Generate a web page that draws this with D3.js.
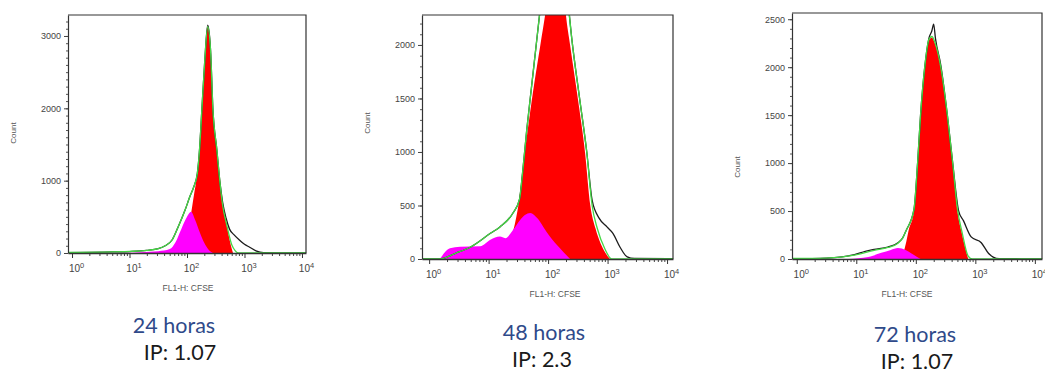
<!DOCTYPE html>
<html>
<head>
<meta charset="utf-8">
<script src="https://cdn.jsdelivr.net/npm/d3@7/dist/d3.min.js"></script>
<style>
  body { margin: 0; background: #fff; }
  svg { display: block; }
</style>
</head>
<body>
<div class="chart"></div>
<script>
// histogram points as [log10(FL1-H), count]
const black24 = [[-0.07,5],[0.3,8],[0.7,15],[1.0,20],[1.3,35],[1.5,60],[1.62,100],[1.74,180],[1.84,350],[1.97,600],[2.05,780],[2.12,920],[2.18,1100],[2.22,1450],[2.26,2000],[2.31,2670],[2.36,3150],[2.41,2800],[2.45,2000],[2.52,1420],[2.57,1000],[2.62,700],[2.68,480],[2.74,330],[2.82,250],[2.91,180],[3.0,120],[3.09,80],[3.2,30],[3.33,5],[3.6,3],[4.07,2]];
const green24 = [[-0.07,8],[0.5,12],[1.0,22],[1.3,35],[1.5,60],[1.62,100],[1.74,180],[1.84,350],[1.97,600],[2.05,780],[2.12,920],[2.18,1100],[2.22,1450],[2.26,2000],[2.31,2670],[2.36,3130],[2.41,2800],[2.45,2000],[2.52,1420],[2.57,1000],[2.62,660],[2.69,390],[2.78,110],[2.84,30],[2.9,0],[4.07,0]];
const red24 = [[1.85,0],[1.95,150],[2.05,450],[2.12,800],[2.17,1050],[2.22,1450],[2.26,2000],[2.31,2670],[2.36,3120],[2.41,2780],[2.45,2000],[2.52,1420],[2.57,1000],[2.62,660],[2.69,390],[2.75,150],[2.8,0]];
const magenta24 = [[0.9,0],[1.2,12],[1.5,25],[1.7,55],[1.8,150],[1.9,330],[2.0,500],[2.07,570],[2.14,460],[2.22,290],[2.3,140],[2.38,40],[2.45,0]];

const black48 = [[-0.12,0],[0.18,0],[0.45,55],[0.69,110],[1.03,240],[1.19,300],[1.41,430],[1.52,560],[1.57,800],[1.64,1200],[1.72,1600],[1.8,2000],[1.88,2400],[1.98,2900],[2.1,3200],[2.2,3100],[2.3,2600],[2.4,2050],[2.53,1500],[2.65,1000],[2.74,550],[2.86,380],[2.99,300],[3.09,240],[3.21,110],[3.33,20],[3.45,5],[4.1,3]];
const green48 = [[-0.12,0],[0.18,0],[0.45,55],[0.69,110],[1.03,240],[1.19,300],[1.41,430],[1.52,560],[1.57,800],[1.64,1200],[1.72,1600],[1.8,2000],[1.88,2400],[1.98,2900],[2.1,3200],[2.2,3100],[2.3,2600],[2.4,2050],[2.53,1500],[2.65,1000],[2.74,500],[2.83,280],[2.95,100],[3.07,0],[4.1,0]];
const red48 = [[1.2,0],[1.35,150],[1.45,350],[1.5,500],[1.61,1000],[1.73,1500],[1.87,2000],[1.95,2280],[2.05,2700],[2.15,2800],[2.25,2600],[2.3,2280],[2.37,2000],[2.5,1500],[2.62,1000],[2.71,500],[2.8,280],[2.92,100],[3.04,0]];
const magenta48 = [[0.18,0],[0.35,100],[0.52,115],[0.86,120],[1.03,180],[1.19,210],[1.28,195],[1.41,270],[1.53,365],[1.61,410],[1.7,430],[1.82,380],[1.92,300],[2.03,210],[2.2,100],[2.37,0]];

const black72 = [[-0.08,3],[0.5,10],[0.97,45],[1.15,80],[1.3,100],[1.53,125],[1.7,170],[1.78,220],[1.84,300],[1.97,520],[2.03,1000],[2.08,1500],[2.15,2000],[2.22,2300],[2.27,2380],[2.3,2450],[2.33,2300],[2.42,2020],[2.53,1500],[2.62,1000],[2.72,500],[2.8,400],[2.93,230],[3.1,170],[3.22,60],[3.3,20],[3.4,3],[4.12,2]];
const green72 = [[-0.08,5],[0.5,10],[0.97,40],[1.3,90],[1.53,120],[1.7,165],[1.78,220],[1.84,300],[1.97,520],[2.03,1000],[2.08,1500],[2.15,2000],[2.22,2290],[2.27,2320],[2.32,2260],[2.42,2000],[2.53,1500],[2.62,1000],[2.7,520],[2.78,270],[2.88,30],[2.95,0],[4.12,0]];
const red72 = [[1.75,0],[1.8,80],[1.84,180],[1.88,300],[1.97,500],[2.03,1000],[2.08,1500],[2.15,2000],[2.22,2280],[2.27,2310],[2.32,2250],[2.42,2000],[2.53,1500],[2.62,1000],[2.7,500],[2.78,250],[2.88,0]];
const magenta72 = [[0.87,0],[1.2,20],[1.42,65],[1.58,95],[1.7,115],[1.83,95],[1.95,50],[2.08,0]];

const hours = ["24 horas", "48 horas", "72 horas"];
const ipValues = ["IP: 1.07", "IP: 2.3", "IP: 1.07"];
const yTicks24 = [0, 1000, 2000, 3000];
const yTicks48 = [0, 500, 1000, 1500, 2000];
const yTicks72 = [0, 500, 1000, 1500, 2000, 2500];
const xDecades = [0, 1, 2, 3, 4];

const width = 1045;
const height = 374;

const svg = d3.select(".chart")
    .append("svg")
    .attr("width", width)
    .attr("height", height);

svg.append("rect")
    .attr("width", width)
    .attr("height", height)
    .attr("fill", "#fff");

function drawPanel(i, box, data, yTicks) {
    const x = d3.scaleLog()
        .domain([Math.pow(10, box.lo), Math.pow(10, box.hi)])
        .range([box.left, box.right]);

    const y = d3.scaleLinear()
        .domain([0, box.yMax])
        .range([box.bottom, box.top]);

    const g = svg.append("g");

    g.append("clipPath")
        .attr("id", "clip" + i)
        .append("rect")
        .attr("x", box.left)
        .attr("y", box.top)
        .attr("width", box.right - box.left)
        .attr("height", box.bottom - box.top);

    const plot = g.append("g").attr("clip-path", `url(#clip${i})`);

    const area = d3.area()
        .x(d => x(Math.pow(10, d[0])))
        .y0(y(0))
        .y1(d => y(d[1]))
        .curve(d3.curveMonotoneX);

    const line = d3.line()
        .x(d => x(Math.pow(10, d[0])))
        .y(d => y(d[1]))
        .curve(d3.curveMonotoneX);

    plot.append("path").datum(data.red).attr("d", area).attr("fill", "#ff0000");
    plot.append("path").datum(data.magenta).attr("d", area).attr("fill", "#ff00ff");
    plot.append("path").datum(data.black).attr("d", line)
        .attr("fill", "none").attr("stroke", "#1c1c1c").attr("stroke-width", 1.3);
    plot.append("path").datum(data.green).attr("d", line)
        .attr("fill", "none").attr("stroke", "#45d845").attr("stroke-width", 1.3);

    // frame top + right
    g.append("path")
        .attr("d", `M${box.left},${box.top}H${box.right}V${box.bottom}`)
        .attr("fill", "none")
        .attr("stroke", "#333")
        .attr("stroke-width", 1.2);

    // y axis: minor ticks then major ticks with labels
    const minorY = d3.range(0, box.yMax, 100);
    g.append("g")
        .attr("transform", `translate(${box.left},0)`)
        .call(d3.axisLeft(y).tickValues(minorY).tickSize(2).tickFormat(""))
        .call(a => a.select(".domain").remove())
        .selectAll("line").attr("stroke", "#555");

    g.append("g")
        .attr("transform", `translate(${box.left},0)`)
        .call(d3.axisLeft(y).tickValues(yTicks).tickFormat(d3.format("d")).tickSize(4).tickSizeOuter(0).tickPadding(3))
        .call(a => a.select(".domain").attr("stroke", "#333").attr("stroke-width", 1.2))
        .call(a => a.selectAll("line").attr("stroke", "#444"))
        .selectAll("text")
        .attr("fill", "#444")
        .style("font-family", "Liberation Sans, Arial, sans-serif")
        .style("font-size", "9px");

    // x axis: log decades with minor ticks
    const minorX = [];
    for (let e = 0; e < 4; e++) {
        for (let k = 2; k < 10; k++) minorX.push(k * Math.pow(10, e));
    }
    g.append("g")
        .attr("transform", `translate(0,${box.bottom})`)
        .call(d3.axisBottom(x).tickValues(minorX).tickSize(3).tickFormat(""))
        .call(a => a.select(".domain").remove())
        .selectAll("line").attr("stroke", "#444");

    g.append("g")
        .attr("transform", `translate(0,${box.bottom})`)
        .call(d3.axisBottom(x).tickValues(xDecades.map(e => Math.pow(10, e))).tickSize(5).tickSizeOuter(0).tickPadding(7))
        .call(a => a.select(".domain").attr("stroke", "#333").attr("stroke-width", 1.4))
        .call(a => a.selectAll("line").attr("stroke", "#333"))
        .selectAll("text")
        .attr("fill", "#444")
        .attr("dx", "4px")
        .style("font-family", "Liberation Sans, Arial, sans-serif")
        .style("font-size", "10px")
        .text("10")
        .append("tspan")
        .attr("dy", "-0.5em")
        .style("font-size", "7.5px")
        .text(d => Math.round(Math.log10(d)));

    g.append("text")
        .attr("x", box.titleX)
        .attr("y", box.bottom + 38)
        .attr("text-anchor", "middle")
        .attr("fill", "#555")
        .style("font-family", "Liberation Sans, Arial, sans-serif")
        .style("font-size", "8.5px")
        .text("FL1-H: CFSE");

    g.append("text")
        .attr("transform", `translate(${box.countX},${box.countY}) rotate(-90)`)
        .attr("text-anchor", "middle")
        .attr("fill", "#555")
        .style("font-family", "Liberation Sans, Arial, sans-serif")
        .style("font-size", "8px")
        .text("Count");

    g.append("text")
        .attr("x", box.capX)
        .attr("y", box.capY)
        .attr("text-anchor", "middle")
        .attr("fill", "#2f4a8a")
        .style("font-family", "Lato, sans-serif")
        .style("font-size", "21.5px")
        .text(hours[i]);

    g.append("text")
        .attr("x", box.ipX)
        .attr("y", box.capY + 27)
        .attr("text-anchor", "middle")
        .attr("fill", "#1a1a1a")
        .style("font-family", "Lato, sans-serif")
        .style("font-size", "21.5px")
        .text(ipValues[i]);
}

const boxes = [
    {left: 68, right: 306, top: 15, bottom: 253, lo: -0.07, hi: 4.07, yMax: 3290, titleX: 188, countX: 16, countY: 133, capX: 174, ipX: 180, capY: 333},
    {left: 422, right: 673, top: 15, bottom: 259, lo: -0.12, hi: 4.1, yMax: 2280, titleX: 555, countX: 370, countY: 123, capX: 544, ipX: 542, capY: 340},
    {left: 792, right: 1042, top: 13, bottom: 259, lo: -0.08, hi: 4.12, yMax: 2565, titleX: 907, countX: 740, countY: 167, capX: 915, ipX: 917, capY: 342}
];

drawPanel(0, boxes[0], {black: black24, green: green24, red: red24, magenta: magenta24}, yTicks24);
drawPanel(1, boxes[1], {black: black48, green: green48, red: red48, magenta: magenta48}, yTicks48);
drawPanel(2, boxes[2], {black: black72, green: green72, red: red72, magenta: magenta72}, yTicks72);
</script>
</body>
</html>
